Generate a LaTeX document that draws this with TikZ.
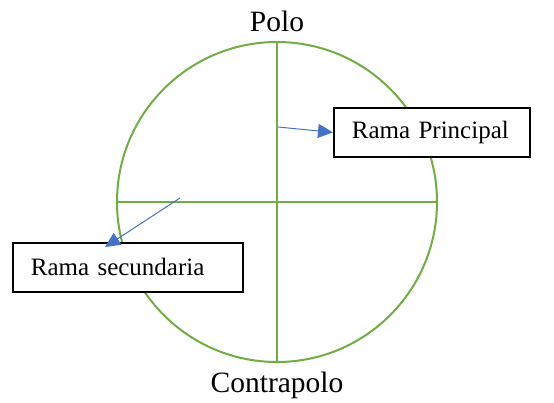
\documentclass[tikz,border=0pt]{standalone}
\usepackage{fontspec}
\setmainfont{Liberation Serif}
\usetikzlibrary{arrows.meta, positioning}
\definecolor{globegreen}{RGB}{112,173,71}
\definecolor{arrowblue}{RGB}{68,114,196}

\begin{document}
\begin{tikzpicture}[x=1pt, y=-1pt, >={Triangle[length=15pt,width=14pt]}]

            \useasboundingbox (0,0) rectangle (554,402);

            \node[draw=globegreen, line width=2pt, circle, minimum size=320pt, inner sep=0pt] (globe) at (277,202) {};

            \node[font=\fontsize{29.5}{33}\selectfont] (polo) at (277,21) {Polo};
            \node[font=\fontsize{29.5}{33}\selectfont] (contra) at (277,385) {Contrapolo};

            % Axes of the globe
            \draw[globegreen, line width=2pt] (globe.north) -- (globe.south);
            \draw[globegreen, line width=2pt] (globe.west) -- (globe.east);

            \node[draw, fill=white, line width=1.8pt, anchor=north west, text width=160pt, inner xsep=18pt, minimum height=49pt, align=left, font=\fontsize{25}{29}\selectfont] (principal) at (333,107) {Rama Principal};
            \node[draw, fill=white, line width=1.8pt, anchor=north west, text width=194pt, inner xsep=18pt, minimum height=49pt, align=left, font=\fontsize{25}{29}\selectfont] (secundaria) at (12,242) {Rama secundaria};

            % Arrows: branches to labels
            \coordinate (pstart) at (278,127);
            \coordinate (sstart) at (180,198);
            \coordinate (stip) at (105,247);
            \draw[->, arrowblue, line width=1pt] (pstart) -- (principal.west);
            \draw[->, arrowblue, line width=1pt] (sstart) -- (stip);

        \end{tikzpicture}
\end{document}
